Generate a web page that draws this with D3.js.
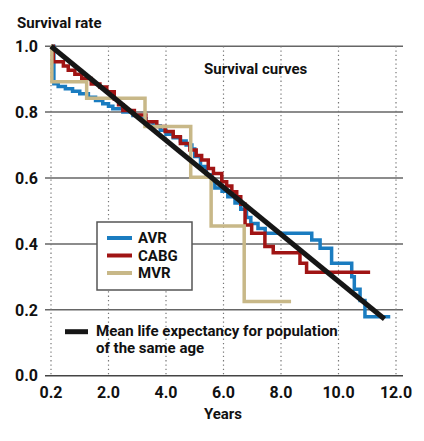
<!DOCTYPE html>
<html><head><meta charset="utf-8">
<script src="https://cdn.jsdelivr.net/npm/d3@7"></script>
<style>
body{margin:0;background:#fff;}
text{font-family:"Liberation Sans Narrow","Arial Narrow","Roboto",sans-serif;font-weight:bold;fill:#111;}
</style></head>
<body><svg id="c" width="424" height="441"></svg>
<script>
const xTickValues = [0, 2, 4, 6, 8, 10, 12];
const xTickLabels = ["0.2", "2.0", "4.0", "6.0", "8.0", "10.0", "12.0"];
const yTickValues = [0, 0.2, 0.4, 0.6, 0.8, 1.0];
const yTickLabels = ["0.0", "0.2", "0.4", "0.6", "0.8", "1.0"];

const seriesNames = ["AVR", "CABG", "MVR"];
const seriesColors = ["#1a7cc0", "#a01414", "#c8b888"];

const avrYears = [0, 0.1, 0.25, 0.5, 0.75, 1.0, 1.3, 1.55, 1.8, 2.0, 2.15, 2.5, 2.85, 3.1, 3.3, 3.55, 3.8, 4.0, 4.25, 4.5, 4.7, 4.9, 5.0, 5.2, 5.4, 5.6, 5.7, 5.95, 6.15, 6.4, 6.6, 6.8, 6.95, 7.2, 7.45, 9.07, 9.36, 9.76, 10.46, 10.55, 10.75, 10.92, 11.8];
const avrRates = [1.0, 0.886, 0.878, 0.871, 0.863, 0.856, 0.845, 0.835, 0.825, 0.818, 0.810, 0.800, 0.790, 0.780, 0.770, 0.758, 0.745, 0.733, 0.722, 0.712, 0.700, 0.688, 0.665, 0.635, 0.610, 0.590, 0.570, 0.560, 0.543, 0.524, 0.505, 0.480, 0.462, 0.447, 0.432, 0.412, 0.387, 0.341, 0.300, 0.262, 0.228, 0.179, 0.179];

const cabgYears = [0, 0.08, 0.43, 0.6, 0.83, 1.07, 1.4, 1.7, 1.94, 2.2, 2.35, 2.5, 2.9, 3.3, 3.68, 3.97, 4.25, 4.5, 4.83, 5.05, 5.24, 5.47, 5.65, 5.94, 6.11, 6.29, 6.46, 6.6, 6.75, 6.98, 7.44, 7.73, 8.66, 8.89, 11.1];
const cabgRates = [1.0, 0.953, 0.940, 0.927, 0.915, 0.902, 0.885, 0.876, 0.862, 0.840, 0.822, 0.805, 0.791, 0.771, 0.756, 0.741, 0.725, 0.705, 0.685, 0.668, 0.655, 0.629, 0.614, 0.589, 0.576, 0.558, 0.543, 0.520, 0.457, 0.432, 0.392, 0.373, 0.341, 0.314, 0.314];

const mvrYears = [0, 0.03, 1.24, 3.27, 4.86, 5.57, 6.72, 8.35];
const mvrRates = [1.0, 0.892, 0.842, 0.756, 0.602, 0.454, 0.225, 0.225];

const lifeYears = [0, 11.6];
const lifeRates = [1.0, 0.172];

const svg = d3.select("#c");
const x = d3.scaleLinear().domain([0, 12]).range([51, 396]);
const y = d3.scaleLinear().domain([0, 1]).range([375.7, 46.2]);

// horizontal gridlines
svg.append("g").selectAll("line").data(yTickValues).join("line")
  .attr("x1", 45).attr("x2", 403)
  .attr("y1", d => y(d)).attr("y2", d => y(d))
  .attr("stroke", d => d === 0 ? "#444" : "#666")
  .attr("stroke-width", 1.5);

// vertical dotted gridlines
svg.append("g").selectAll("line").data(xTickValues).join("line")
  .attr("x1", d => x(d)).attr("x2", d => x(d))
  .attr("y1", y(1)).attr("y2", y(0))
  .attr("stroke", "#777").attr("stroke-width", 1.2)
  .attr("stroke-dasharray", "1.3,3");

// y tick labels
svg.append("g").selectAll("text").data(yTickValues).join("text")
  .attr("x", 38).attr("y", d => y(d)).attr("dy", "0.36em")
  .attr("text-anchor", "end").attr("font-size", 16)
  .text((d, i) => yTickLabels[i]);

// x tick labels
svg.append("g").selectAll("text").data(xTickValues).join("text")
  .attr("x", d => x(d)).attr("y", 398)
  .attr("text-anchor", "middle").attr("font-size", 16)
  .text((d, i) => xTickLabels[i]);

svg.append("text").attr("x", 17).attr("y", 28).attr("font-size", 15).text("Survival rate");
svg.append("text").attr("x", 223).attr("y", 419).attr("text-anchor", "middle").attr("font-size", 15).text("Years");
svg.append("text").attr("x", 204).attr("y", 74).attr("font-size", 15).text("Survival curves");

const step = d3.line().x(d => x(d[0])).y(d => y(d[1])).curve(d3.curveStepAfter);
const series = [
  d3.zip(avrYears, avrRates),
  d3.zip(cabgYears, cabgRates),
  d3.zip(mvrYears, mvrRates)
];
series.forEach((s, i) => {
  svg.append("path").attr("d", step(s)).attr("fill", "none")
    .attr("stroke", seriesColors[i]).attr("stroke-width", 3.5)
    .attr("stroke-linejoin", "miter");
});

const straight = d3.line().x(d => x(d[0])).y(d => y(d[1]));
svg.append("path").attr("d", straight(d3.zip(lifeYears, lifeRates)))
  .attr("fill", "none").attr("stroke", "#161616").attr("stroke-width", 5);

// legend box
const lg = svg.append("g");
lg.append("rect").attr("x", 97).attr("y", 222).attr("width", 95).attr("height", 68)
  .attr("fill", "#fff").attr("stroke", "#555").attr("stroke-width", 1.5);
seriesNames.forEach((n, i) => {
  const cy = 238 + i * 17.5;
  lg.append("line").attr("x1", 107).attr("x2", 132).attr("y1", cy).attr("y2", cy)
    .attr("stroke", seriesColors[i]).attr("stroke-width", 4);
  lg.append("text").attr("x", 138).attr("y", cy).attr("dy", "0.36em").attr("font-size", 15).text(n);
});

svg.append("line").attr("x1", 65).attr("x2", 88).attr("y1", 331.7).attr("y2", 331.7)
  .attr("stroke", "#161616").attr("stroke-width", 5);
svg.append("text").attr("x", 96).attr("y", 335.5).attr("font-size", 15).text("Mean life expectancy for population");
svg.append("text").attr("x", 96).attr("y", 353).attr("font-size", 15).text("of the same age");
</script></body></html>
